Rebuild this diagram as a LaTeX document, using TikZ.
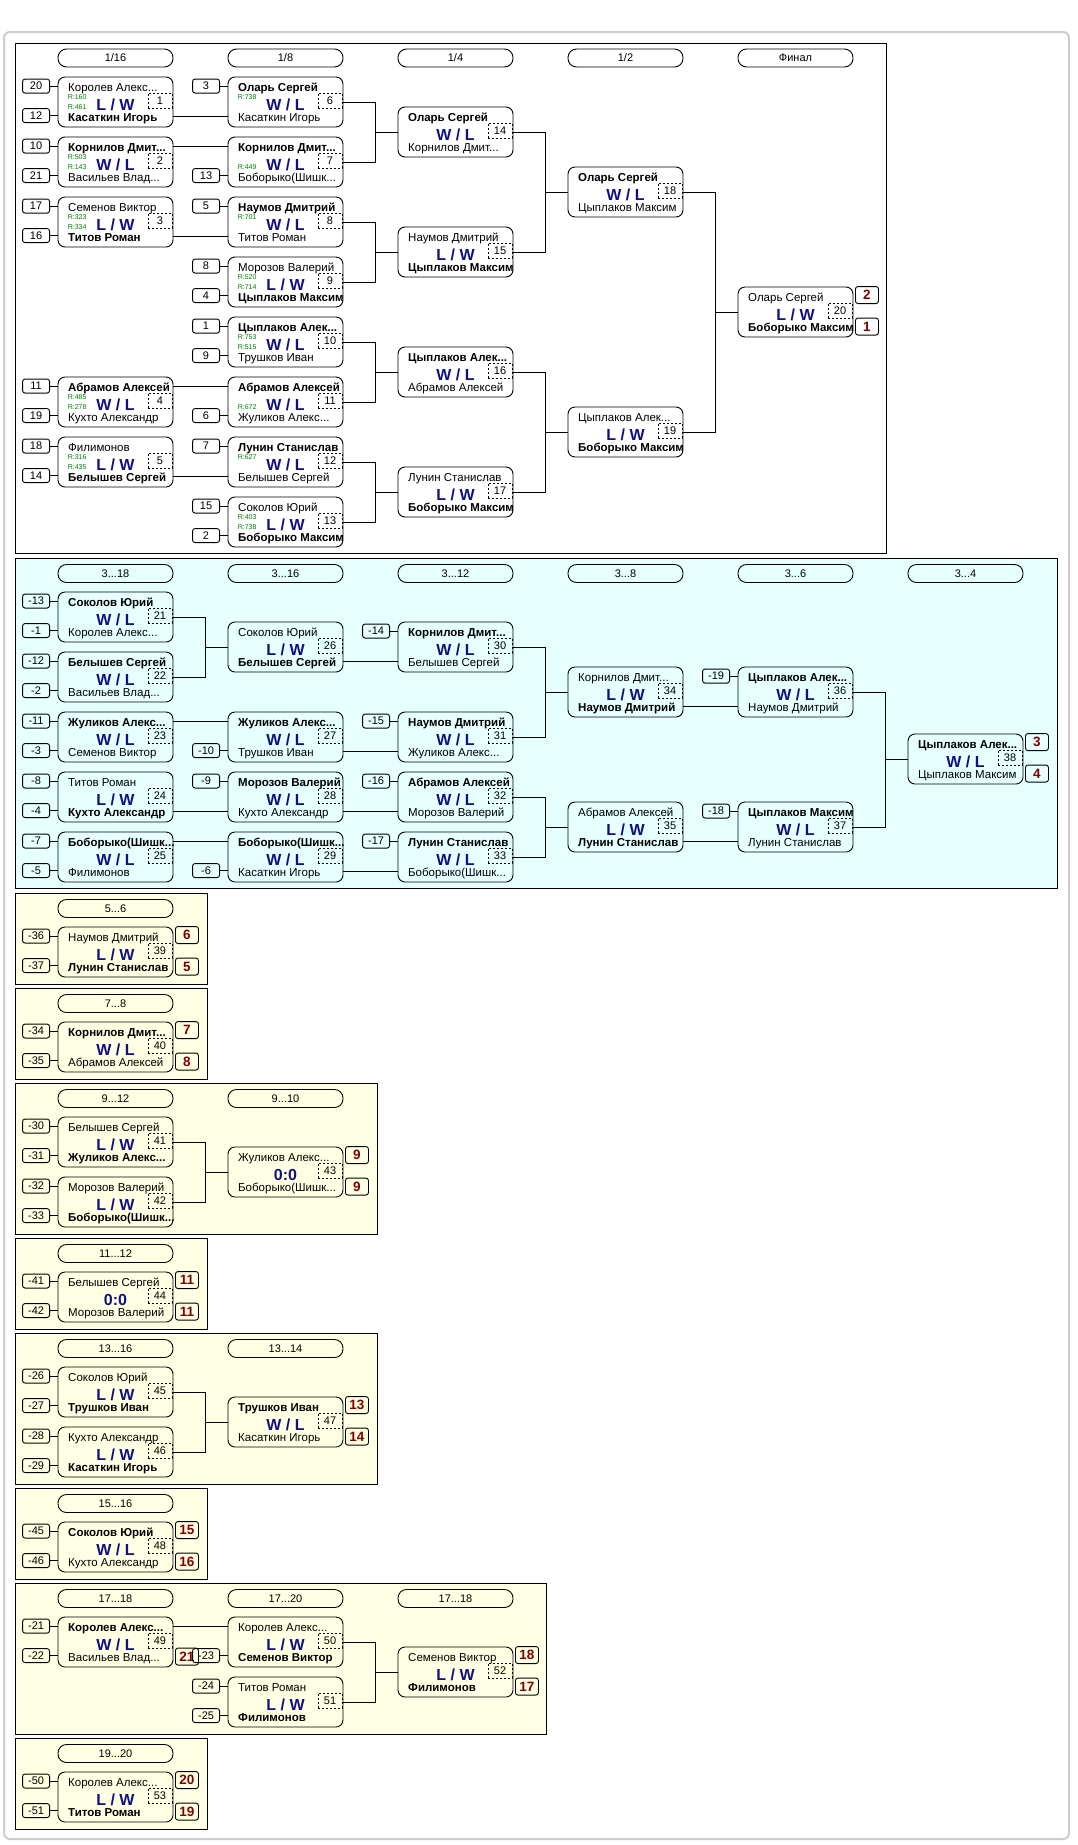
\documentclass[tikz,border=0pt]{standalone}
\usepackage{fontspec}
\setmainfont{Liberation Sans}
\definecolor{bgc}{RGB}{230,255,255}
\definecolor{bgy}{RGB}{255,255,228}
\definecolor{resc}{RGB}{16,16,128}
\definecolor{plcol}{RGB}{128,0,0}
\definecolor{rtc}{RGB}{0,128,0}
\definecolor{frm}{RGB}{205,205,205}
\tikzset{
 mbox/.style={draw, rounded corners=7pt, minimum width=115pt, minimum height=50pt, inner sep=0pt, line width=0.9pt},
 nm/.style={inner sep=0pt, font=\fontsize{11.5}{13}\selectfont, anchor=base west},
 res/.style={inner sep=0pt, font=\fontsize{16}{18}\selectfont\bfseries, text=resc, anchor=base},
 numbox/.style={draw, dash pattern=on 2pt off 2pt, minimum width=24pt, minimum height=15pt, inner sep=0pt, font=\fontsize{11}{12}\selectfont, line width=0.7pt},
 seedbox/.style={draw, rounded corners=2.5pt, minimum width=27pt, minimum height=14pt, inner sep=0pt, font=\fontsize{11}{12}\selectfont, line width=0.9pt},
 plbox/.style={draw, rounded corners=2.5pt, minimum width=23pt, minimum height=17pt, inner sep=0pt, font=\fontsize{13.5}{14}\selectfont\bfseries, text=plcol, line width=0.9pt},
 hdr/.style={draw, rounded corners=8.5pt, minimum width=115pt, minimum height=18pt, inner sep=0pt, font=\fontsize{11}{12}\selectfont, line width=0.9pt},
 rt/.style={inner sep=0pt, font=\fontsize{7}{8}\selectfont, text=rtc, anchor=base west},
 ln/.style={line width=0.9pt},
 sec/.style={draw, line width=0.9pt},
}
\newcommand\bnm[1]{{\bfseries #1}}
\newcommand\mtch[7]{%
 \node[mbox] (#1) at (#2+57.5,#3+25) {};
 \begin{scope}
 \clip[rounded corners=7pt] (#2,#3) rectangle ++(115,50);
 \node[nm] (#1t) at (#2+10,#3+14) {#5};
 \node[nm] (#1b) at (#2+10,#3+44) {#7};
 \end{scope}
 \node[res] (#1r) at (#2+57.5,#3+33) {#6};
 \node[numbox] (#1n) at (#2+102,#3+23.5) {#4};
}
\newcommand\sd[4]{%
 \path (#2.north west) ++(-21.5,#3) node[seedbox] (#1) {#4};
 \draw[ln] (#1.east) -- (#1.east -| #2.west);
}
\newcommand\rat[4]{\path (#2.north west) ++(10,#3) node[rt] (#1) {#4};}
\newcommand\plc[4]{\path (#2.north east) ++(13.5,#3) node[plbox] (#1) {#4};}
\newcommand\bus[3]{%
 \draw[ln] (#1.east) -- ++(32,0) |- (#3.west);
 \draw[ln] (#2.east) -- ++(32,0) |- (#3.west);
}
\newcommand\rowt[2]{\draw[ln] ([yshift=15.5pt]#1.east) -- ([yshift=15.5pt]#2.west);}
\newcommand\rowb[2]{\draw[ln] ([yshift=-14.5pt]#1.east) -- ([yshift=-14.5pt]#2.west);}
\begin{document}
\begin{tikzpicture}[x=1pt,y=-1pt]
\useasboundingbox (0,0) rectangle (1077,1845);
\fill[white] (0,0) rectangle (1077,1845);
\draw[frm, line width=2pt, rounded corners=6pt] (4,32) rectangle (1069,1839);
% sections
\draw[sec, fill=white] (15,43) rectangle (886,553);
\draw[sec, fill=bgc] (15,558) rectangle (1057,888);
\draw[sec, fill=bgy] (15,893) rectangle (207,984);
\draw[sec, fill=bgy] (15,988) rectangle (207,1079);
\draw[sec, fill=bgy] (15,1083) rectangle (377,1234);
\draw[sec, fill=bgy] (15,1238) rectangle (207,1329);
\draw[sec, fill=bgy] (15,1333) rectangle (377,1484);
\draw[sec, fill=bgy] (15,1488) rectangle (207,1579);
\draw[sec, fill=bgy] (15,1583) rectangle (546,1734);
\draw[sec, fill=bgy] (15,1738) rectangle (207,1829);
% headers
\node[hdr] (h1a) at (115.5,58) {1/16};
\node[hdr] (h1b) at (285.5,58) {1/8};
\node[hdr] (h1c) at (455.5,58) {1/4};
\node[hdr] (h1d) at (625.5,58) {1/2};
\node[hdr] (h1e) at (795.5,58) {Финал};
\node[hdr] (h2a) at (115.5,573.5) {3...18};
\node[hdr] (h2b) at (285.5,573.5) {3...16};
\node[hdr] (h2c) at (455.5,573.5) {3...12};
\node[hdr] (h2d) at (625.5,573.5) {3...8};
\node[hdr] (h2e) at (795.5,573.5) {3...6};
\node[hdr] (h2f) at (965.5,573.5) {3...4};
\node[hdr] (h3a) at (115.5,908.5) {5...6};
\node[hdr] (h4a) at (115.5,1003.5) {7...8};
\node[hdr] (h5a) at (115.5,1098.5) {9...12};
\node[hdr] (h5b) at (285.5,1098.5) {9...10};
\node[hdr] (h6a) at (115.5,1253.5) {11...12};
\node[hdr] (h7a) at (115.5,1348.5) {13...16};
\node[hdr] (h7b) at (285.5,1348.5) {13...14};
\node[hdr] (h8a) at (115.5,1503.5) {15...16};
\node[hdr] (h9a) at (115.5,1598.5) {17...18};
\node[hdr] (h9b) at (285.5,1598.5) {17...20};
\node[hdr] (h9c) at (455.5,1598.5) {17...18};
\node[hdr] (h10a) at (115.5,1753.5) {19...20};
% ===== section 1 =====
\mtch{m1}{58}{77}{1}{Королев Алекс...}{L / W}{\bnm{Касаткин Игорь}}
\mtch{m2}{58}{137}{2}{\bnm{Корнилов Дмит...}}{W / L}{Васильев Влад...}
\mtch{m3}{58}{197}{3}{Семенов Виктор}{L / W}{\bnm{Титов Роман}}
\mtch{m4}{58}{377}{4}{\bnm{Абрамов Алексей}}{W / L}{Кухто Александр}
\mtch{m5}{58}{437}{5}{Филимонов}{L / W}{\bnm{Белышев Сергей}}
\mtch{m6}{228}{77}{6}{\bnm{Оларь Сергей}}{W / L}{Касаткин Игорь}
\mtch{m7}{228}{137}{7}{\bnm{Корнилов Дмит...}}{W / L}{Боборыко(Шишк...}
\mtch{m8}{228}{197}{8}{\bnm{Наумов Дмитрий}}{W / L}{Титов Роман}
\mtch{m9}{228}{257}{9}{Морозов Валерий}{L / W}{\bnm{Цыплаков Максим}}
\mtch{m10}{228}{317}{10}{\bnm{Цыплаков Алек...}}{W / L}{Трушков Иван}
\mtch{m11}{228}{377}{11}{\bnm{Абрамов Алексей}}{W / L}{Жуликов Алекс...}
\mtch{m12}{228}{437}{12}{\bnm{Лунин Станислав}}{W / L}{Белышев Сергей}
\mtch{m13}{228}{497}{13}{Соколов Юрий}{L / W}{\bnm{Боборыко Максим}}
\mtch{m14}{398}{107}{14}{\bnm{Оларь Сергей}}{W / L}{Корнилов Дмит...}
\mtch{m15}{398}{227}{15}{Наумов Дмитрий}{L / W}{\bnm{Цыплаков Максим}}
\mtch{m16}{398}{347}{16}{\bnm{Цыплаков Алек...}}{W / L}{Абрамов Алексей}
\mtch{m17}{398}{467}{17}{Лунин Станислав}{L / W}{\bnm{Боборыко Максим}}
\mtch{m18}{568}{167}{18}{\bnm{Оларь Сергей}}{W / L}{Цыплаков Максим}
\mtch{m19}{568}{407}{19}{Цыплаков Алек...}{L / W}{\bnm{Боборыко Максим}}
\mtch{m20}{738}{287}{20}{Оларь Сергей}{L / W}{\bnm{Боборыко Максим}}
\plc{p20a}{m20}{8.5}{2}
\plc{p20b}{m20}{40}{1}
\sd{s1a}{m1}{9.5}{20} \sd{s1b}{m1}{39}{12}
\sd{s2a}{m2}{9.5}{10} \sd{s2b}{m2}{39}{21}
\sd{s3a}{m3}{9.5}{17} \sd{s3b}{m3}{39}{16}
\sd{s4a}{m4}{9.5}{11} \sd{s4b}{m4}{39}{19}
\sd{s5a}{m5}{9.5}{18} \sd{s5b}{m5}{39}{14}
\sd{s6a}{m6}{9.5}{3}
\sd{s7b}{m7}{39}{13}
\sd{s8a}{m8}{9.5}{5}
\sd{s9a}{m9}{9.5}{8} \sd{s9b}{m9}{39}{4}
\sd{s10a}{m10}{9.5}{1} \sd{s10b}{m10}{39}{9}
\sd{s11b}{m11}{39}{6}
\sd{s12a}{m12}{9.5}{7}
\sd{s13a}{m13}{9.5}{15} \sd{s13b}{m13}{39}{2}
\rat{r1a}{m1}{23}{R:160} \rat{r1b}{m1}{33}{R:461}
\rat{r2a}{m2}{23}{R:503} \rat{r2b}{m2}{33}{R:143}
\rat{r3a}{m3}{23}{R:323} \rat{r3b}{m3}{33}{R:334}
\rat{r4a}{m4}{23}{R:485} \rat{r4b}{m4}{33}{R:278}
\rat{r5a}{m5}{23}{R:316} \rat{r5b}{m5}{33}{R:435}
\rat{r6a}{m6}{23}{R:738}
\rat{r7b}{m7}{33}{R:449}
\rat{r8a}{m8}{23}{R:701}
\rat{r9a}{m9}{23}{R:520} \rat{r9b}{m9}{33}{R:714}
\rat{r10a}{m10}{23}{R:753} \rat{r10b}{m10}{33}{R:515}
\rat{r11b}{m11}{33}{R:672}
\rat{r12a}{m12}{23}{R:627}
\rat{r13a}{m13}{23}{R:403} \rat{r13b}{m13}{33}{R:738}
\rowb{m1}{m6}
\rowt{m2}{m7}
\rowb{m3}{m8}
\rowt{m4}{m11}
\rowb{m5}{m12}
\bus{m6}{m7}{m14}
\bus{m8}{m9}{m15}
\bus{m10}{m11}{m16}
\bus{m12}{m13}{m17}
\bus{m14}{m15}{m18}
\bus{m16}{m17}{m19}
\bus{m18}{m19}{m20}
% ===== section 2 =====
\mtch{m21}{58}{592}{21}{\bnm{Соколов Юрий}}{W / L}{Королев Алекс...}
\mtch{m22}{58}{652}{22}{\bnm{Белышев Сергей}}{W / L}{Васильев Влад...}
\mtch{m23}{58}{712}{23}{\bnm{Жуликов Алекс...}}{W / L}{Семенов Виктор}
\mtch{m24}{58}{772}{24}{Титов Роман}{L / W}{\bnm{Кухто Александр}}
\mtch{m25}{58}{832}{25}{\bnm{Боборыко(Шишк...}}{W / L}{Филимонов}
\mtch{m26}{228}{622}{26}{Соколов Юрий}{L / W}{\bnm{Белышев Сергей}}
\mtch{m27}{228}{712}{27}{\bnm{Жуликов Алекс...}}{W / L}{Трушков Иван}
\mtch{m28}{228}{772}{28}{\bnm{Морозов Валерий}}{W / L}{Кухто Александр}
\mtch{m29}{228}{832}{29}{\bnm{Боборыко(Шишк...}}{W / L}{Касаткин Игорь}
\mtch{m30}{398}{622}{30}{\bnm{Корнилов Дмит...}}{W / L}{Белышев Сергей}
\mtch{m31}{398}{712}{31}{\bnm{Наумов Дмитрий}}{W / L}{Жуликов Алекс...}
\mtch{m32}{398}{772}{32}{\bnm{Абрамов Алексей}}{W / L}{Морозов Валерий}
\mtch{m33}{398}{832}{33}{\bnm{Лунин Станислав}}{W / L}{Боборыко(Шишк...}
\mtch{m34}{568}{667}{34}{Корнилов Дмит...}{L / W}{\bnm{Наумов Дмитрий}}
\mtch{m35}{568}{802}{35}{Абрамов Алексей}{L / W}{\bnm{Лунин Станислав}}
\mtch{m36}{738}{667}{36}{\bnm{Цыплаков Алек...}}{W / L}{Наумов Дмитрий}
\mtch{m37}{738}{802}{37}{\bnm{Цыплаков Максим}}{W / L}{Лунин Станислав}
\mtch{m38}{908}{734}{38}{\bnm{Цыплаков Алек...}}{W / L}{Цыплаков Максим}
\plc{p38a}{m38}{8.5}{3}
\plc{p38b}{m38}{40}{4}
\sd{s21a}{m21}{9.5}{-13} \sd{s21b}{m21}{39}{-1}
\sd{s22a}{m22}{9.5}{-12} \sd{s22b}{m22}{39}{-2}
\sd{s23a}{m23}{9.5}{-11} \sd{s23b}{m23}{39}{-3}
\sd{s24a}{m24}{9.5}{-8} \sd{s24b}{m24}{39}{-4}
\sd{s25a}{m25}{9.5}{-7} \sd{s25b}{m25}{39}{-5}
\sd{s27b}{m27}{39}{-10}
\sd{s28a}{m28}{9.5}{-9}
\sd{s29b}{m29}{39}{-6}
\sd{s30a}{m30}{9.5}{-14}
\sd{s31a}{m31}{9.5}{-15}
\sd{s32a}{m32}{9.5}{-16}
\sd{s33a}{m33}{9.5}{-17}
\sd{s36a}{m36}{9.5}{-19}
\sd{s37a}{m37}{9.5}{-18}
\bus{m21}{m22}{m26}
\rowt{m23}{m27}
\rowb{m24}{m28}
\rowt{m25}{m29}
\rowb{m26}{m30}
\rowb{m27}{m31}
\rowb{m28}{m32}
\rowb{m29}{m33}
\bus{m30}{m31}{m34}
\bus{m32}{m33}{m35}
\rowb{m34}{m36}
\rowb{m35}{m37}
\bus{m36}{m37}{m38}
% ===== section 3 =====
\mtch{m39}{58}{927}{39}{Наумов Дмитрий}{L / W}{\bnm{Лунин Станислав}}
\sd{s39a}{m39}{9.5}{-36} \sd{s39b}{m39}{39}{-37}
\plc{p39a}{m39}{8.5}{6} \plc{p39b}{m39}{40}{5}
% ===== section 4 =====
\mtch{m40}{58}{1022}{40}{\bnm{Корнилов Дмит...}}{W / L}{Абрамов Алексей}
\sd{s40a}{m40}{9.5}{-34} \sd{s40b}{m40}{39}{-35}
\plc{p40a}{m40}{8.5}{7} \plc{p40b}{m40}{40}{8}
% ===== section 5 =====
\mtch{m41}{58}{1117}{41}{Белышев Сергей}{L / W}{\bnm{Жуликов Алекс...}}
\mtch{m42}{58}{1177}{42}{Морозов Валерий}{L / W}{\bnm{Боборыко(Шишк...}}
\mtch{m43}{228}{1147}{43}{Жуликов Алекс...}{0:0}{Боборыко(Шишк...}
\sd{s41a}{m41}{9.5}{-30} \sd{s41b}{m41}{39}{-31}
\sd{s42a}{m42}{9.5}{-32} \sd{s42b}{m42}{39}{-33}
\plc{p43a}{m43}{8.5}{9} \plc{p43b}{m43}{40}{9}
\bus{m41}{m42}{m43}
% ===== section 6 =====
\mtch{m44}{58}{1272}{44}{Белышев Сергей}{0:0}{Морозов Валерий}
\sd{s44a}{m44}{9.5}{-41} \sd{s44b}{m44}{39}{-42}
\plc{p44a}{m44}{8.5}{11} \plc{p44b}{m44}{40}{11}
% ===== section 7 =====
\mtch{m45}{58}{1367}{45}{Соколов Юрий}{L / W}{\bnm{Трушков Иван}}
\mtch{m46}{58}{1427}{46}{Кухто Александр}{L / W}{\bnm{Касаткин Игорь}}
\mtch{m47}{228}{1397}{47}{\bnm{Трушков Иван}}{W / L}{Касаткин Игорь}
\sd{s45a}{m45}{9.5}{-26} \sd{s45b}{m45}{39}{-27}
\sd{s46a}{m46}{9.5}{-28} \sd{s46b}{m46}{39}{-29}
\plc{p47a}{m47}{8.5}{13} \plc{p47b}{m47}{40}{14}
\bus{m45}{m46}{m47}
% ===== section 8 =====
\mtch{m48}{58}{1522}{48}{\bnm{Соколов Юрий}}{W / L}{Кухто Александр}
\sd{s48a}{m48}{9.5}{-45} \sd{s48b}{m48}{39}{-46}
\plc{p48a}{m48}{8.5}{15} \plc{p48b}{m48}{40}{16}
% ===== section 9 =====
\mtch{m49}{58}{1617}{49}{\bnm{Королев Алекс...}}{W / L}{Васильев Влад...}
\mtch{m50}{228}{1617}{50}{Королев Алекс...}{L / W}{\bnm{Семенов Виктор}}
\mtch{m51}{228}{1677}{51}{Титов Роман}{L / W}{\bnm{Филимонов}}
\mtch{m52}{398}{1647}{52}{Семенов Виктор}{L / W}{\bnm{Филимонов}}
\sd{s49a}{m49}{9.5}{-21} \sd{s49b}{m49}{39}{-22}
\plc{p49b}{m49}{40}{21}
\sd{s50b}{m50}{39}{-23}
\sd{s51a}{m51}{9.5}{-24} \sd{s51b}{m51}{39}{-25}
\plc{p52a}{m52}{8.5}{18} \plc{p52b}{m52}{40}{17}
\rowt{m49}{m50}
\bus{m50}{m51}{m52}
% ===== section 10 =====
\mtch{m53}{58}{1772}{53}{Королев Алекс...}{L / W}{\bnm{Титов Роман}}
\sd{s53a}{m53}{9.5}{-50} \sd{s53b}{m53}{39}{-51}
\plc{p53a}{m53}{8.5}{20} \plc{p53b}{m53}{40}{19}
\end{tikzpicture}
\end{document}
